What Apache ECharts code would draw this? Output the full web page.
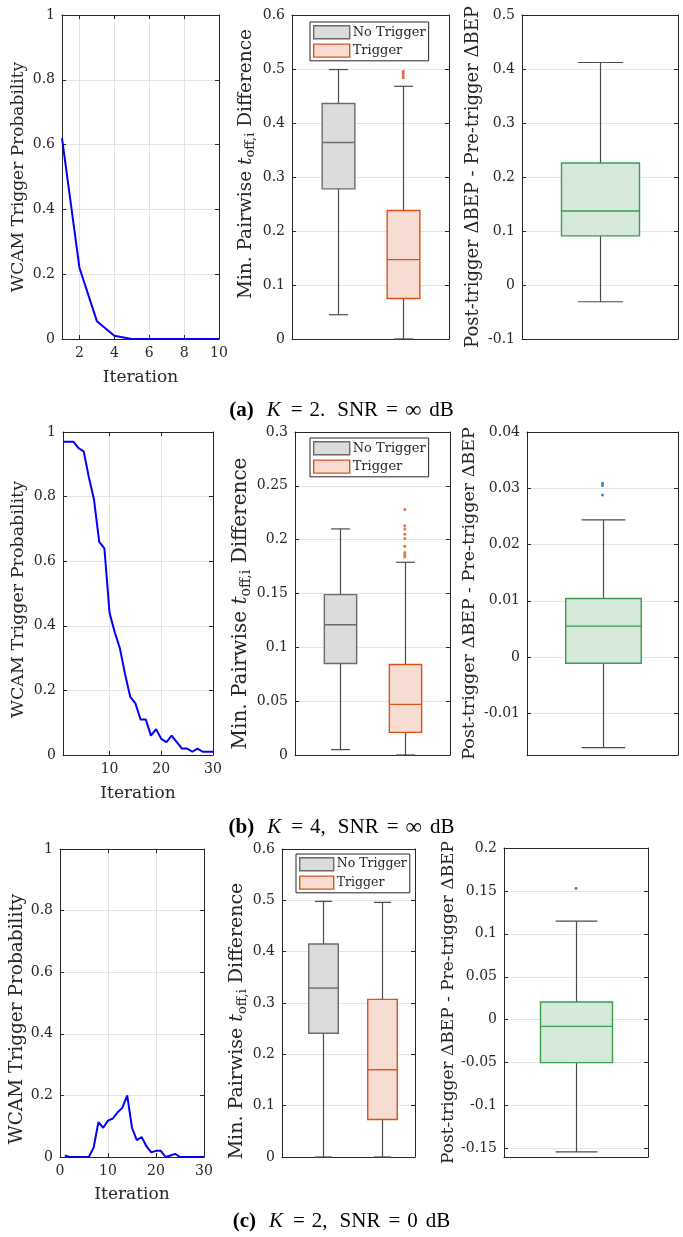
<!DOCTYPE html>
<html>
<head>
<meta charset="utf-8">
<script src="https://cdn.jsdelivr.net/npm/echarts@6/dist/echarts.min.js"></script>
<style>
  html, body { margin: 0; padding: 0; background: #fff; }
  #fig { width: 683px; height: 1237px; }
</style>
</head>
<body>
<div id="fig"></div>
<script>
// ---- WCAM trigger probability per iteration ----
const iterA = [1, 2, 3, 4, 5, 6, 7, 8, 9, 10];
const probA = [0.62, 0.22, 0.055, 0.01, 0, 0, 0, 0, 0, 0];

const iterB = [1, 2, 3, 4, 5, 6, 7, 8, 9, 10, 11, 12, 13, 14, 15, 16, 17, 18, 19, 20, 21, 22, 23, 24, 25, 26, 27, 28, 29, 30];
const probB = [0.97, 0.97, 0.97, 0.95, 0.94, 0.86, 0.79, 0.66, 0.64, 0.44, 0.38, 0.33, 0.25, 0.18, 0.16,
               0.11, 0.11, 0.06, 0.08, 0.05, 0.04, 0.06, 0.04, 0.02, 0.02, 0.01, 0.02, 0.01, 0.01, 0.01];

const iterC = [1, 2, 3, 4, 5, 6, 7, 8, 9, 10, 11, 12, 13, 14, 15, 16, 17, 18, 19, 20, 21, 22, 23, 24, 25, 26, 27, 28, 29, 30];
const probC = [0.005, 0, 0, 0, 0, 0, 0.03, 0.113, 0.095, 0.118, 0.125, 0.145, 0.16, 0.2, 0.095,
               0.055, 0.065, 0.035, 0.015, 0.02, 0.02, 0, 0.005, 0.01, 0, 0, 0, 0, 0, 0];

// ---- box statistics: [lower whisker, Q1, median, Q3, upper whisker] ----
// (a) K = 2, SNR = inf
const gapNoTrigA = [0.045, 0.278, 0.364, 0.436, 0.499];
const gapTrigA   = [0, 0.075, 0.147, 0.238, 0.468];
const gapTrigOutA = [0.484, 0.488, 0.492, 0.496];
const dBepA = [-0.031, 0.091, 0.137, 0.226, 0.412];
const dBepOutA = [];

// (b) K = 4, SNR = inf
const gapNoTrigB = [0.005, 0.085, 0.121, 0.149, 0.21];
const gapTrigB   = [0, 0.021, 0.047, 0.084, 0.179];
const gapTrigOutB = [0.184, 0.186, 0.188, 0.194, 0.201, 0.205, 0.21, 0.213, 0.228];
const dBepB = [-0.0161, -0.0011, 0.0055, 0.0104, 0.0244];
const dBepOutB = [0.0288, 0.0305, 0.0309];

// (c) K = 2, SNR = 0 dB
const gapNoTrigC = [0, 0.241, 0.329, 0.415, 0.498];
const gapTrigC   = [0, 0.073, 0.17, 0.307, 0.496];
const gapTrigOutC = [];
const dBepC = [-0.154, -0.05, -0.0078, 0.0206, 0.1147];
const dBepOutC = [0.153];

// ---- styling ----
const FONT = 'DejaVu Serif';
const INK = '#262626';
const GRID_LINE = '#e4e4e4';
const GRAY = { fill: '#dcdcdc', edge: '#6b6b6b' };
const ORANGE = { fill: '#f7ddd1', edge: '#d95319' };
const GREEN = { fill: '#d5eadb', edge: '#3a9d50' };
const WHISKER = '#4a4a4a';

const panels = [
  { l: 62,  t: 15,  w: 157, h: 324 }, { l: 292, t: 15,  w: 157, h: 324 }, { l: 522, t: 15,  w: 156, h: 324 },
  { l: 63,  t: 432, w: 150, h: 323 }, { l: 295, t: 432, w: 155, h: 323 }, { l: 527, t: 432, w: 151, h: 323 },
  { l: 60,  t: 849, w: 144, h: 308 }, { l: 282, t: 849, w: 133, h: 308 }, { l: 504, t: 848, w: 144, h: 309 }
];

const grids = panels.map(p => ({
  left: p.l, top: p.t, width: p.w, height: p.h, show: false, containLabel: false
}));

const xAxes = [];
const yAxes = [];
const series = [];
const legends = [];

const frameLine = { show: true, onZero: false, lineStyle: { color: INK, width: 1 } };
const tickLabel = { fontFamily: FONT, fontSize: 14, color: INK, margin: 7 };

// axis title style; shift > 0 moves a rotated title towards the panel top, < 0 towards the bottom
function nameStyle(size, shift) {
  const s = shift || 0;
  return {
    fontFamily: FONT, fontSize: size, color: INK,
    padding: s >= 0 ? [0, 0, 0, 2 * s] : [0, -2 * s, 0, 0],
    rich: {
      n: { fontFamily: FONT, fontSize: size, color: INK, lineHeight: size + 4 },
      t: { fontFamily: FONT, fontSize: size, fontStyle: 'italic', color: INK, lineHeight: size + 4 },
      s: { fontFamily: FONT, fontSize: Math.round(size * 0.7), color: INK, verticalAlign: 'bottom',
           lineHeight: Math.round(size * 0.75) }
    }
  };
}

// value axis pair (main + mirrored tick-only axis) for one panel
function addY(gi, cfg) {
  const base = {
    type: 'value', gridIndex: gi, min: cfg.min, max: cfg.max,
    axisLine: frameLine,
    axisTick: { show: true, inside: true, length: 4, lineStyle: { color: INK } },
    splitLine: { show: true, lineStyle: { color: GRID_LINE, width: 1 } }
  };
  if (cfg.interval != null) base.interval = cfg.interval;
  if (cfg.splitNumber != null) base.splitNumber = cfg.splitNumber;
  yAxes.push(Object.assign({}, base, {
    position: 'left',
    axisLabel: Object.assign({}, tickLabel, { showMinLabel: cfg.showMin !== false }),
    name: cfg.name, nameLocation: 'middle', nameRotate: 90, nameGap: cfg.nameGap,
    nameTextStyle: nameStyle(cfg.nameSize || 17, cfg.shift)
  }));
  yAxes.push(Object.assign({}, base, {
    position: 'right', axisLabel: { show: false }, splitLine: { show: false }
  }));
}

function addX(gi, cfg) {
  const base = {
    type: 'value', gridIndex: gi, min: cfg.min, max: cfg.max,
    axisLine: frameLine,
    axisTick: { show: !!cfg.ticks, inside: true, length: 4, lineStyle: { color: INK } },
    splitLine: { show: !!cfg.ticks, lineStyle: { color: GRID_LINE, width: 1 } }
  };
  if (cfg.interval != null) base.interval = cfg.interval;
  if (cfg.splitNumber != null) base.splitNumber = cfg.splitNumber;
  xAxes.push(Object.assign({}, base, {
    position: 'bottom',
    axisLabel: cfg.ticks ? Object.assign({}, tickLabel, { showMinLabel: cfg.showMin !== false }) : { show: false },
    name: cfg.name || '', nameLocation: 'middle', nameGap: cfg.nameGap || 30,
    nameTextStyle: nameStyle(17, 0)
  }));
  xAxes.push(Object.assign({}, base, {
    position: 'top', axisLabel: { show: false }, splitLine: { show: false }
  }));
}

// MATLAB-style box: whiskers with caps, translucent box, median bar
function boxRenderer(col, boxW) {
  return function (params, api) {
    const x = api.value(0);
    const lo = api.coord([x, api.value(1)]);
    const q1 = api.coord([x, api.value(2)]);
    const md = api.coord([x, api.value(3)]);
    const q3 = api.coord([x, api.value(4)]);
    const hi = api.coord([x, api.value(5)]);
    const w = api.size([boxW, 0])[0];
    const cap = w * 0.58;
    const cx = Math.round(lo[0]) + 0.5;
    const wh = { stroke: WHISKER, lineWidth: 1.2 };
    return {
      type: 'group',
      children: [
        { type: 'line', shape: { x1: cx, y1: lo[1], x2: cx, y2: q1[1] }, style: wh },
        { type: 'line', shape: { x1: cx, y1: q3[1], x2: cx, y2: hi[1] }, style: wh },
        { type: 'line', shape: { x1: cx - cap / 2, y1: lo[1], x2: cx + cap / 2, y2: lo[1] }, style: wh },
        { type: 'line', shape: { x1: cx - cap / 2, y1: hi[1], x2: cx + cap / 2, y2: hi[1] }, style: wh },
        { type: 'rect', shape: { x: cx - w / 2, y: q3[1], width: w, height: q1[1] - q3[1] },
          style: { fill: col.fill, stroke: col.edge, lineWidth: 1.4 } },
        { type: 'line', shape: { x1: cx - w / 2, y1: md[1], x2: cx + w / 2, y2: md[1] },
          style: { stroke: col.edge, lineWidth: 1.4 } }
      ]
    };
  };
}

function addBox(gi, name, pos, stats, col, boxW) {
  series.push({
    type: 'custom', name: name, xAxisIndex: 2 * gi, yAxisIndex: 2 * gi, silent: true,
    data: [[pos].concat(stats)],
    encode: { x: 0, y: [1, 2, 3, 4, 5] },
    itemStyle: { color: col.fill, borderColor: col.edge },
    renderItem: boxRenderer(col, boxW), z: 3
  });
}

function addOutliers(gi, pos, vals, color) {
  if (!vals.length) return;
  series.push({
    type: 'scatter', xAxisIndex: 2 * gi, yAxisIndex: 2 * gi, silent: true,
    symbol: 'circle', symbolSize: 3, itemStyle: { color: color },
    data: vals.map(v => [pos, v]), z: 4
  });
}

function addLine(gi, xs, ys) {
  series.push({
    type: 'line', xAxisIndex: 2 * gi, yAxisIndex: 2 * gi, silent: true,
    showSymbol: false, symbol: 'none',
    lineStyle: { color: '#0000ff', width: 2 },
    data: xs.map((x, i) => [x, ys[i]]), z: 3
  });
}

function addLegend(left, top, fontSize, iconW) {
  legends.push({
    left: left, top: top, orient: 'vertical', selectedMode: false,
    icon: 'rect', itemWidth: iconW, itemHeight: 13, itemGap: 4,
    padding: [3, 3, 3, 3], borderColor: INK, borderWidth: 1, backgroundColor: '#fff',
    textStyle: { fontFamily: FONT, fontSize: fontSize, color: INK, padding: [0, 0, 0, -2] },
    data: [
      { name: 'No Trigger', itemStyle: { color: GRAY.fill, borderColor: GRAY.edge, borderWidth: 1.4 } },
      { name: 'Trigger', itemStyle: { color: ORANGE.fill, borderColor: ORANGE.edge, borderWidth: 1.4 } }
    ]
  });
}

const probName = 'WCAM Trigger Probability';
const gapName = '{n|Min. Pairwise }{t|t}{s|off,i}{n| Difference}';
const bepName = 'Post-trigger ΔBEP - Pre-trigger ΔBEP';

// ---- row (a) ----
addX(0, { min: 1, max: 10, splitNumber: 5, ticks: true, showMin: false, name: 'Iteration', nameGap: 30 });
addY(0, { min: 0, max: 1, interval: 0.2, name: probName, nameGap: 35 });
addLine(0, iterA, probA);

addX(1, { min: 0.3, max: 2.7 });
addY(1, { min: 0, max: 0.6, interval: 0.1, name: gapName, nameGap: 35, nameSize: 18.5, shift: 13 });
addBox(1, 'No Trigger', 1, gapNoTrigA, GRAY, 0.5);
addBox(1, 'Trigger', 2, gapTrigA, ORANGE, 0.5);
addOutliers(1, 2, gapTrigOutA, ORANGE.edge);
addLegend(310, 22, 13, 36);

addX(2, { min: 0.5, max: 1.5 });
addY(2, { min: -0.1, max: 0.5, interval: 0.1, name: bepName, nameGap: 40, nameSize: 18 });
addBox(2, 'dBEP', 1, dBepA, GREEN, 0.5);
addOutliers(2, 1, dBepOutA, '#0072bd');

// ---- row (b) ----
addX(3, { min: 1, max: 30, splitNumber: 3, ticks: true, showMin: false, name: 'Iteration', nameGap: 30 });
addY(3, { min: 0, max: 1, interval: 0.2, name: probName, nameGap: 36, nameSize: 17.5, shift: -6 });
addLine(3, iterB, probB);

addX(4, { min: 0.3, max: 2.7 });
addY(4, { min: 0, max: 0.3, interval: 0.05, name: gapName, nameGap: 42, nameSize: 20, shift: -10 });
addBox(4, 'No Trigger', 1, gapNoTrigB, GRAY, 0.5);
addBox(4, 'Trigger', 2, gapTrigB, ORANGE, 0.5);
addOutliers(4, 2, gapTrigOutB, ORANGE.edge);
addLegend(310, 438, 13, 36);

addX(5, { min: 0.5, max: 1.5 });
addY(5, { min: -0.0174, max: 0.04, splitNumber: 6, showMin: false, name: bepName, nameGap: 49, nameSize: 17.5 });
addBox(5, 'dBEP', 1, dBepB, GREEN, 0.5);
addOutliers(5, 1, dBepOutB, '#0072bd');

// ---- row (c) ----
addX(6, { min: 0, max: 30, interval: 10, ticks: true, name: 'Iteration', nameGap: 29 });
addY(6, { min: 0, max: 1, interval: 0.2, name: probName, nameGap: 32, nameSize: 18.5, shift: -16 });
addLine(6, iterC, probC);

addX(7, { min: 0.3, max: 2.55 });
addY(7, { min: 0, max: 0.6, interval: 0.1, name: gapName, nameGap: 30, nameSize: 19, shift: -18 });
addBox(7, 'No Trigger', 1, gapNoTrigC, GRAY, 0.5);
addBox(7, 'Trigger', 2, gapTrigC, ORANGE, 0.5);
addOutliers(7, 2, gapTrigOutC, ORANGE.edge);
addLegend(296, 854, 12.5, 34);

addX(8, { min: 0.5, max: 1.5 });
addY(8, { min: -0.16, max: 0.2, splitNumber: 7, showMin: false, name: bepName, nameGap: 40, nameSize: 17 });
addBox(8, 'dBEP', 1, dBepC, GREEN, 0.5);
addOutliers(8, 1, dBepOutC, '#0072bd');

// ---- sub-figure captions ----
const CAP = 'Liberation Serif';
const capRich = {
  b: { fontFamily: CAP, fontSize: 21, fontWeight: 'bold', color: '#000' },
  k: { fontFamily: CAP, fontSize: 21, fontStyle: 'italic', color: '#000', padding: [0, 10, 0, 13] },
  e: { fontFamily: CAP, fontSize: 21, color: '#000', padding: [0, 7, 0, 0] },
  n: { fontFamily: CAP, fontSize: 21, color: '#000', padding: [0, 12, 0, 0] },
  r: { fontFamily: CAP, fontSize: 21, color: '#000', padding: [0, 8, 0, 0] },
  u: { fontFamily: CAP, fontSize: 23, color: '#000', padding: [0, 8, 0, 0] },
  d: { fontFamily: CAP, fontSize: 21, color: '#000' }
};
function caption(text, top) {
  return { text: text, left: 'center', top: top, padding: 0,
           textStyle: { fontFamily: CAP, fontSize: 21, fontWeight: 'normal', color: '#000', rich: capRich } };
}
const titles = [
  caption('{b|(a)}{k|K}{e|=}{n|2.}{r|SNR}{e|=}{u|∞}{d|dB}', 399),
  caption('{b|(b)}{k|K}{e|=}{n|4,}{r|SNR}{e|=}{u|∞}{d|dB}', 816),
  caption('{b|(c)}{k|K}{e|=}{n|2,}{r|SNR}{e|=}{r|0}{d|dB}', 1211)
];

const chart = echarts.init(document.getElementById('fig'), null, { renderer: 'canvas' });
chart.setOption({
  animation: false,
  backgroundColor: '#fff',
  title: titles,
  grid: grids,
  xAxis: xAxes,
  yAxis: yAxes,
  legend: legends,
  series: series
});
</script>
</body>
</html>
